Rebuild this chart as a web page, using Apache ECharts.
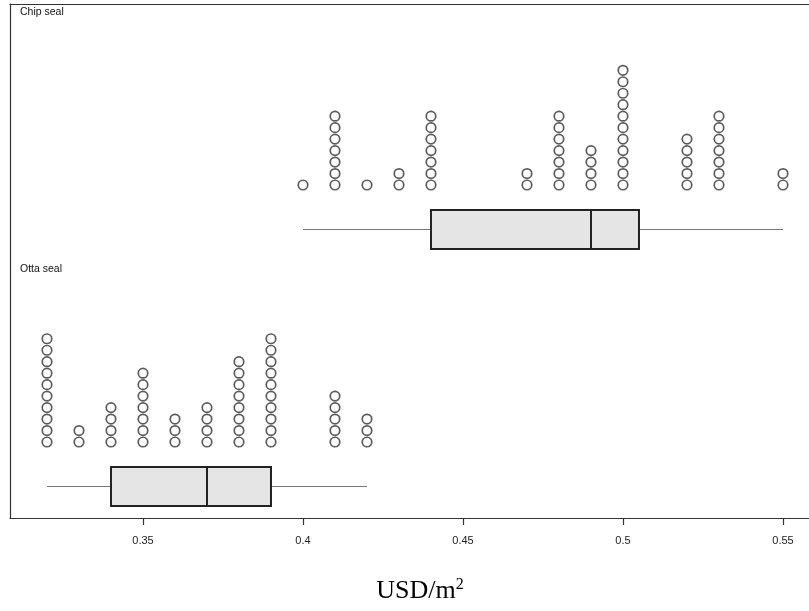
<!DOCTYPE html>
<html><head><meta charset="utf-8">
<script src="https://cdn.jsdelivr.net/npm/echarts@6/dist/echarts.min.js"></script>
<style>html,body{margin:0;padding:0;background:#fff}#c{width:809px;height:611px}</style>
</head><body><div id="c"></div>
<script>
// ---- data ----
const groups = ['Chip seal', 'Otta seal'];
const chipValues = [0.40, 0.41, 0.42, 0.43, 0.44, 0.47, 0.48, 0.49, 0.50, 0.52, 0.53, 0.55];
const chipCounts = [1, 7, 1, 2, 7, 2, 7, 4, 11, 5, 7, 2];
const ottaValues = [0.32, 0.33, 0.34, 0.35, 0.36, 0.37, 0.38, 0.39, 0.41, 0.42];
const ottaCounts = [10, 2, 4, 7, 3, 4, 8, 10, 5, 3];
// [whisker low, Q1, median, Q3, whisker high]
const chipBox = [0.40, 0.44, 0.49, 0.505, 0.55];
const ottaBox = [0.32, 0.34, 0.37, 0.39, 0.42];
const xTicks = [0.35, 0.40, 0.45, 0.50, 0.55];
const xTitle = 'USD/m';
const xTitleSup = '2';

// ---- layout constants (y in panel pixel units) ----
const PANEL_H = 257;
const DOT_STEP = 11.47;
const DOT_BASE = 76;
const BOX_Y = 31.5;
const BOX_HALF = 19.5;
const X_MIN = 0.30844, X_MAX = 0.55813;

function dots(values, counts) {
  const out = [];
  values.forEach((v, i) => {
    for (let k = 0; k < counts[i]; k++) out.push([v, DOT_BASE + k * DOT_STEP]);
  });
  return out;
}

function renderBox(params, api) {
  const lo = api.value(0), q1 = api.value(1), med = api.value(2), q3 = api.value(3), hi = api.value(4);
  const c = (x, y) => api.coord([x, y]);
  const yMid = c(lo, BOX_Y)[1];
  const yTop = c(lo, BOX_Y + BOX_HALF)[1];
  const yBot = c(lo, BOX_Y - BOX_HALF)[1];
  const xLo = c(lo, BOX_Y)[0], xQ1 = c(q1, BOX_Y)[0], xMed = c(med, BOX_Y)[0], xQ3 = c(q3, BOX_Y)[0], xHi = c(hi, BOX_Y)[0];
  return {
    type: 'group',
    children: [
      { type: 'line', shape: { x1: xLo, y1: yMid, x2: xQ1, y2: yMid }, style: { stroke: '#777', lineWidth: 1 } },
      { type: 'line', shape: { x1: xQ3, y1: yMid, x2: xHi, y2: yMid }, style: { stroke: '#777', lineWidth: 1 } },
      { type: 'rect', shape: { x: xQ1, y: yTop, width: xQ3 - xQ1, height: yBot - yTop }, style: { fill: '#e5e5e5', stroke: '#222', lineWidth: 2 } },
      { type: 'line', shape: { x1: xMed, y1: yTop, x2: xMed, y2: yBot }, style: { stroke: '#222', lineWidth: 2 } }
    ]
  };
}

const axisLine = { show: true, onZero: false, lineStyle: { color: '#333', width: 1.2 } };
const baseX = { type: 'value', min: X_MIN, max: X_MAX, splitLine: { show: false } };
const baseY = { type: 'value', min: 0, max: PANEL_H, axisLabel: { show: false }, axisTick: { show: false }, splitLine: { show: false }, axisLine: axisLine };

const dotStyle = { color: '#fff', borderColor: '#333', borderWidth: 1.7 };

const option = {
  animation: false,
  grid: [
    { left: 10, right: 0, top: 4, height: PANEL_H },
    { left: 10, right: 0, top: 4 + PANEL_H, height: PANEL_H }
  ],
  xAxis: [
    Object.assign({}, baseX, { gridIndex: 0, position: 'top', axisLine: axisLine, axisTick: { show: false }, axisLabel: { show: false } }),
    Object.assign({}, baseX, {
      gridIndex: 1, position: 'bottom', axisLine: axisLine,
      axisTick: { show: true, length: 7, lineStyle: { color: '#333', width: 1.2 }, customValues: xTicks },
      axisLabel: { show: true, customValues: xTicks, margin: 17, fontSize: 11, color: '#222', fontFamily: 'Liberation Sans, Arial, sans-serif', formatter: v => String(+v.toFixed(2)) }
    })
  ],
  yAxis: [
    Object.assign({}, baseY, { gridIndex: 0 }),
    Object.assign({}, baseY, { gridIndex: 1 })
  ],
  series: [
    { type: 'scatter', xAxisIndex: 0, yAxisIndex: 0, symbol: 'circle', symbolSize: 9.5, itemStyle: dotStyle, data: dots(chipValues, chipCounts), silent: true },
    { type: 'scatter', xAxisIndex: 1, yAxisIndex: 1, symbol: 'circle', symbolSize: 9.5, itemStyle: dotStyle, data: dots(ottaValues, ottaCounts), silent: true },
    { type: 'custom', xAxisIndex: 0, yAxisIndex: 0, renderItem: renderBox, data: [chipBox], encode: { x: [0, 1, 2, 3, 4] }, clip: false, silent: true },
    { type: 'custom', xAxisIndex: 1, yAxisIndex: 1, renderItem: renderBox, data: [ottaBox], encode: { x: [0, 1, 2, 3, 4] }, clip: false, silent: true }
  ],
  graphic: [
    { type: 'text', left: 20, top: 7, style: { text: groups[0], fontSize: 10.5, fill: '#111', fontFamily: 'Liberation Sans, Arial, sans-serif' } },
    { type: 'text', left: 20, top: 264, style: { text: groups[1], fontSize: 10.5, fill: '#111', fontFamily: 'Liberation Sans, Arial, sans-serif' } },
    { type: 'text', x: 420, y: 591, style: {
        text: '{a|' + xTitle + '}{s|' + xTitleSup + '}',
        align: 'center', verticalAlign: 'middle',
        rich: {
          a: { fontSize: 26, fontFamily: 'Liberation Serif, Times New Roman, serif', fill: '#000' },
          s: { fontSize: 16, fontFamily: 'Liberation Serif, Times New Roman, serif', fill: '#000', padding: [0, 0, 13, 0] }
        }
    } }
  ]
};
const chart = echarts.init(document.getElementById('c'), null, { renderer: 'canvas' });
chart.setOption(option);
</script>
</body></html>
